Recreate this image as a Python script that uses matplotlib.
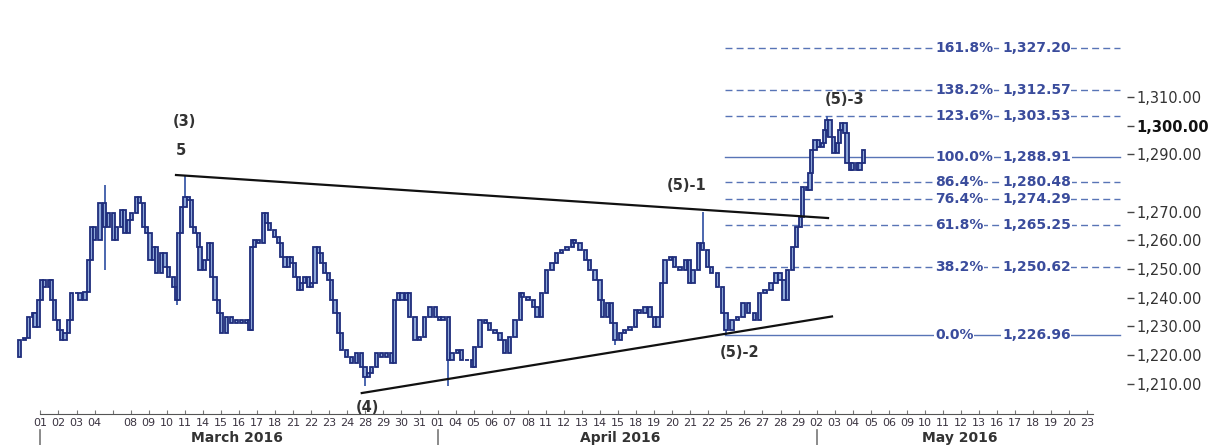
import matplotlib
matplotlib.use("Agg")
import matplotlib.pyplot as plt
from matplotlib.transforms import blended_transform_factory

# x = trading day (0 = 01 March 2016), y = gold price
bar_day = [
    -1.32, -1.14, -0.86, -0.67, -0.40, -0.30, -0.12, 0.07, 0.25, 0.53, 0.62, 0.80,
    0.99, 1.17, 1.36, 1.54, 1.73, 2.01, 2.19, 2.47, 2.65, 2.84, 3.02, 3.30,
    3.57, 3.76, 4.03, 4.22, 4.50, 4.68, 4.86, 5.05, 5.33, 5.51, 5.70, 5.88,
    6.07, 6.25, 6.44, 6.71, 6.90, 7.08, 7.36, 7.55, 7.63, 7.82, 8.01, 8.19,
    8.38, 8.56, 8.74, 8.84, 9.11, 9.30, 9.48, 9.67, 9.85, 10.04, 10.32, 10.59,
    10.87, 11.15, 11.42, 11.61, 11.70, 11.88, 12.07, 12.34, 12.53, 12.71, 12.99, 13.17,
    13.36, 13.55, 13.73, 13.92, 14.10, 14.28, 14.47, 14.65, 14.84, 15.02, 15.21, 15.39,
    15.58, 15.76, 15.94, 16.13, 16.32, 16.50, 16.69, 16.96, 17.24, 17.52, 17.80, 17.98,
    18.16, 18.35, 18.63, 18.90, 19.18, 19.46, 19.64, 19.82, 20.03, 20.30, 20.47, 20.75,
    21.02, 21.30, 21.58, 21.86, 22.13, 22.30, 22.58, 22.80, 23.08, 23.35, 23.63, 23.91,
    24.07, 24.35, 24.63, 24.90, 25.18, 25.46, 25.73, 26.01, 26.29, 26.57, 26.73, 27.01,
    27.29, 27.51, 27.78, 28.06, 28.34, 28.61, 28.89, 29.17, 29.45, 29.61, 29.89, 30.17,
    30.44, 30.72, 31.00, 31.16, 31.39, 31.66, 31.83, 32.11, 32.38, 32.66, 32.94, 33.21,
    33.49, 33.77, 34.04, 34.21, 34.43, 34.60, 34.88, 35.15, 35.43, 35.71, 35.98, 36.15,
    36.43, 36.70, 36.93, 37.20, 37.53, 37.76, 37.98, 38.31, 38.64, 38.92, 39.25, 39.58,
    39.81, 40.14, 40.47, 40.75, 40.97, 41.19, 41.41, 41.64, 41.86, 42.08, 42.24, 42.47,
    42.63, 42.74, 42.91, 43.08, 43.30, 43.46, 43.57, 43.74, 43.91, 44.13, 44.29, 44.40,
    44.57, 44.68, 44.85, 45.01, 45.24, 45.40, 45.57,
]
bar_price = [
    1219.4, 1225.3, 1226.0, 1233.3, 1234.7, 1229.9, 1239.3, 1246.2, 1243.8, 1246.2, 1239.3, 1232.3,
    1228.8, 1225.3, 1227.8, 1232.3, 1241.7, 1241.7, 1239.3, 1242.1, 1253.2, 1264.7, 1260.2, 1273.1,
    1264.7, 1269.6, 1260.2, 1264.7, 1270.6, 1262.6, 1267.1, 1269.6, 1275.2, 1273.1, 1264.7, 1262.6,
    1253.2, 1257.7, 1248.7, 1255.6, 1250.8, 1247.3, 1243.8, 1239.3, 1262.6, 1271.7, 1275.2, 1274.1,
    1264.7, 1262.6, 1257.7, 1249.7, 1253.2, 1259.1, 1247.3, 1239.3, 1234.7, 1227.8, 1233.3, 1231.3,
    1232.3, 1231.3, 1232.3, 1228.8, 1257.7, 1260.2, 1259.1, 1269.6, 1266.1, 1263.7, 1261.2, 1259.1,
    1254.3, 1250.8, 1254.3, 1252.2, 1247.3, 1242.8, 1245.2, 1247.3, 1243.8, 1245.2, 1257.7, 1255.6,
    1252.2, 1248.7, 1246.2, 1239.3, 1234.7, 1227.8, 1221.8, 1219.4, 1217.3, 1220.8, 1215.9, 1212.4,
    1213.8, 1215.9, 1220.8, 1219.4, 1220.8, 1217.3, 1239.3, 1241.7, 1239.3, 1241.7, 1233.3, 1225.3,
    1226.4, 1233.3, 1236.8, 1233.3, 1232.3, 1233.3, 1218.4, 1220.8, 1221.8, 1218.4, 1218.4, 1215.9,
    1222.9, 1232.3, 1231.3, 1228.8, 1227.8, 1225.3, 1220.8, 1226.4, 1232.3, 1241.7, 1240.3, 1239.3,
    1236.8, 1233.3, 1241.7, 1249.7, 1252.2, 1255.6, 1256.7, 1257.7, 1260.2, 1259.1, 1256.7, 1253.2,
    1249.7, 1246.2, 1239.3, 1233.3, 1238.2, 1231.3, 1225.3, 1227.8, 1228.8, 1229.9, 1235.8, 1234.7,
    1236.8, 1233.3, 1229.9, 1233.3, 1245.2, 1253.2, 1254.3, 1250.8, 1249.7, 1253.2, 1245.2, 1249.7,
    1259.1, 1256.7, 1250.8, 1248.7, 1243.8, 1234.7, 1228.8, 1232.3, 1233.3, 1238.2, 1234.7, 1232.3,
    1241.7, 1242.8, 1245.2, 1248.7, 1246.2, 1239.3, 1249.7, 1257.7, 1264.7, 1268.2, 1278.6, 1277.6,
    1283.5, 1291.5, 1295.0, 1292.6, 1294.0, 1298.5, 1302.0, 1296.1, 1290.5, 1294.0, 1298.5, 1301.0,
    1297.5, 1287.0, 1284.6, 1287.0, 1284.6, 1287.0, 1291.5,
]

# long shadows that stick out of the bodies
wick_day = [3.57, 7.55, 8.01, 18.00, 22.58, 31.83, 36.70, 37.98, 43.57]
wick_high = [1279.3, 1239.3, 1282.8, 1214.0, 1233.3, 1231.3, 1269.9, 1234.7, 1303.5]
wick_low = [1249.7, 1237.5, 1271.7, 1209.1, 1209.1, 1223.6, 1256.7, 1226.96, 1296.1]

# triangle trend lines
upper_day = [7.51, 43.63]
upper_price = [1282.8, 1267.8]
lower_day = [17.80, 43.85]
lower_price = [1206.8, 1233.5]

# fibonacci projection of wave (5)
fib_pct = ["161.8%", "138.2%", "123.6%", "100.0%", "86.4%", "76.4%", "61.8%", "38.2%", "0.0%"]
fib_level = [1327.20, 1312.57, 1303.53, 1288.91, 1280.48, 1274.29, 1265.25, 1250.62, 1226.96]
fib_solid = ["100.0%", "0.0%"]

wave_text = ["(3)", "5", "(4)", "(5)-1", "(5)-2", "(5)-3"]
wave_day = [8.0, 7.78, 18.09, 35.8, 38.75, 44.57]
wave_price = [1301.6, 1291.2, 1201.6, 1279.0, 1221.1, 1309.0]

day_labels = (
    ["01", "02", "03", "04", "", "08", "09", "10", "11", "14", "15", "16", "17", "18",
     "21", "22", "23", "24", "28", "29", "30", "31"]
    + ["01", "04", "05", "06", "07", "08", "11", "12", "13", "14", "15", "18", "19", "20",
       "21", "22", "25", "26", "27", "28", "29"]
    + ["02", "03", "04", "05", "06", "09", "10", "11", "12", "13", "16", "17", "18", "19",
       "20", "23"]
)
month_names = ["March 2016", "April 2016", "May 2016"]
month_start = [0, 22, 43]
month_center = [10.9, 32.1, 50.9]

price_ticks = [1210, 1220, 1230, 1240, 1250, 1260, 1270, 1290, 1300, 1310]

BODY_FILL = "#8ea8d8"
BODY_EDGE = "#1f2d7c"
FIB_LINE = "#5874b6"
FIB_TEXT = "#3a4c9c"
TEXT = "#333333"


def draw_candles(ax):
    """Bodies run from the previous close to the current one."""
    opens = bar_price[:-1]
    closes = bar_price[1:]
    days = bar_day[1:]
    bottoms = [min(o, c) for o, c in zip(opens, closes)]
    heights = [abs(c - o) for o, c in zip(opens, closes)]
    ax.vlines(wick_day, wick_low, wick_high, color="#3d5aa8", lw=1.3, zorder=2)
    ax.bar(days, heights, bottom=bottoms, width=0.17, color=BODY_FILL,
           edgecolor=BODY_EDGE, linewidth=1.3, zorder=3)


def draw_fib(ax):
    x0, x1 = 37.92, 59.81
    for pct, lvl in zip(fib_pct, fib_level):
        ls = "-" if pct in fib_solid else (0, (5, 3))
        ax.plot([x0, x1], [lvl, lvl], color=FIB_LINE, lw=1.0, ls=ls, zorder=1)
        box = dict(facecolor="white", edgecolor="none", pad=0.5)
        ax.text(49.56, lvl, pct, color=FIB_TEXT, fontsize=10, fontweight="bold",
                ha="left", va="center", bbox=box, zorder=4)
        ax.text(53.27, lvl, f"{lvl:,.2f}", color=FIB_TEXT, fontsize=10,
                fontweight="bold", ha="left", va="center", bbox=box, zorder=4)


def main():
    fig = plt.figure(figsize=(12.08, 4.45), dpi=100)
    ax = fig.add_axes([0, 31 / 445, 1, 414 / 445])
    ax.set_xlim(-2.24, 64.68)
    ax.set_ylim(1199.5, 1343.8)

    draw_fib(ax)
    ax.plot(upper_day, upper_price, color="#111111", lw=1.6, zorder=4)
    ax.plot(lower_day, lower_price, color="#111111", lw=1.6, zorder=4)
    draw_candles(ax)

    for txt, d, p in zip(wave_text, wave_day, wave_price):
        ax.text(d, p, txt, color=TEXT, fontsize=10.5, fontweight="bold",
                ha="center", va="center")

    # spines and axes
    for side in ["top", "left"]:
        ax.spines[side].set_visible(False)
    ax.spines["bottom"].set_bounds(0, 58.3)
    ax.spines["bottom"].set_color("#555555")
    ax.spines["right"].set_position(("data", 60.19))
    ax.spines["right"].set_visible(False)

    ax.yaxis.tick_right()
    ax.set_yticks(price_ticks)
    ax.set_yticklabels([f"{v:,.2f}" for v in price_ticks])
    ax.tick_params(axis="y", length=5, width=1, color="#444444", pad=2,
                   labelsize=10.5, labelcolor=TEXT)
    for lab in ax.get_yticklabels():
        if lab.get_text() == "1,300.00":
            lab.set_fontweight("bold")
            lab.set_color("#111111")

    ax.set_xticks(range(len(day_labels)))
    ax.set_xticklabels(day_labels)
    ax.tick_params(axis="x", direction="in", length=3, color="#777777", pad=3,
                   labelsize=8, labelcolor="#3a3340")

    trans = blended_transform_factory(ax.transData, ax.transAxes)
    for name, start, mid in zip(month_names, month_start, month_center):
        ax.plot([start, start], [-0.039, -0.08], transform=trans, color="#777777",
                lw=1.2, clip_on=False)
        ax.text(mid, -0.058, name, transform=trans, fontsize=10, fontweight="bold",
                color=TEXT, ha="center", va="center")

    fig.savefig("out.png", dpi=100)


if __name__ == "__main__":
    main()
